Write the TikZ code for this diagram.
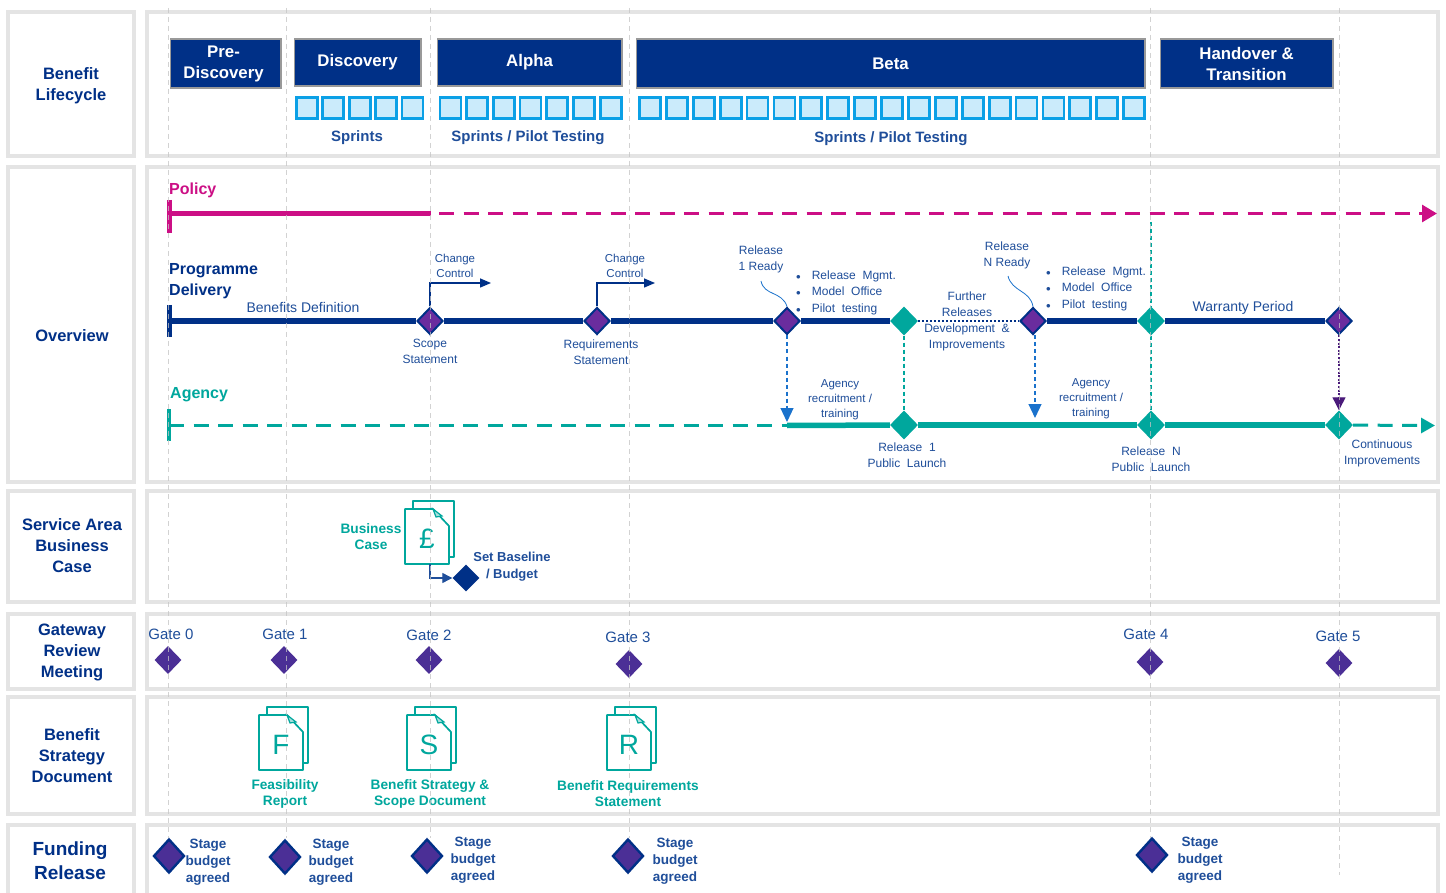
\documentclass[tikz,border=0pt]{standalone}
\usepackage{fontspec}
\setmainfont{Liberation Sans}
\usetikzlibrary{shapes.geometric,arrows.meta}
\definecolor{navy}{HTML}{003087}
\definecolor{txt}{HTML}{1F4E9A}
\definecolor{tl}{HTML}{00A79D}
\definecolor{pk}{HTML}{CC0F85}
\definecolor{pu}{HTML}{6A2C9E}
\definecolor{vi}{HTML}{4B2F96}
\definecolor{sky}{HTML}{0BA0E6}
\definecolor{skyf}{HTML}{CBEBFB}
\definecolor{panel}{HTML}{E4E4E4}
\definecolor{guide}{HTML}{C4C4C4}
\definecolor{arrb}{HTML}{1A72CC}
\definecolor{dkpu}{HTML}{4A1A7A}
\tikzset{
 x=1pt,y=-1pt,
 panelbox/.style={draw=panel,line width=3.5pt,fill=white},
 head/.style={text=navy,font=\fontsize{16.5}{21}\selectfont\bfseries,align=center,inner sep=0pt},
 phase/.style={draw=black!40,line width=1.6pt,fill=navy,text=white,font=\fontsize{16.8}{21}\selectfont\bfseries,align=center,inner sep=0pt,anchor=north west},
 sprint/.style={draw=sky,line width=2.8pt,fill=skyf,minimum width=21pt,minimum height=21.5pt,inner sep=0pt,anchor=north west},
 sub/.style={text=txt,font=\fontsize{15}{19}\selectfont\bfseries,align=center,inner sep=0pt},
 small/.style={text=txt,font=\fontsize{12}{16}\selectfont,align=center,inner sep=0pt},
 tiny/.style={text=txt,font=\fontsize{11.5}{15}\selectfont,align=center,inner sep=0pt},
 tltext/.style={text=tl,font=\fontsize{13.7}{16}\selectfont\bfseries,align=center,inner sep=0pt},
 gatet/.style={text=txt,font=\fontsize{15}{18}\selectfont,inner sep=0pt},
 stage/.style={text=txt,font=\fontsize{13.5}{17}\selectfont\bfseries,align=center,inner sep=0pt},
 guideline/.style={draw=guide,line width=0.8pt,dash pattern=on 5pt off 4pt},
 pdia/.style={diamond,draw=navy,line width=2pt,fill=pu,minimum width=26pt,minimum height=27pt,inner sep=0pt},
 tdia/.style={diamond,fill=tl,minimum width=28pt,minimum height=29pt,inner sep=0pt},
 gdia/.style={diamond,fill=vi,minimum width=27pt,minimum height=28pt,inner sep=0pt},
 fdia/.style={diamond,draw=navy,line width=2.4pt,fill=vi,minimum width=31pt,minimum height=34pt,inner sep=0pt},
 ndia/.style={diamond,fill=navy,minimum width=27pt,minimum height=27pt,inner sep=0pt},
 docb/.style={draw=tl,line width=1.7pt,fill=white,line join=round},
 doclet/.style={text=tl,font=\fontsize{28}{28}\selectfont,inner sep=0pt},
 tick/.style={line width=5pt},
 thick5/.style={line width=5.5pt},
 dash5/.style={line width=3pt,dash pattern=on 15pt off 9.5pt},
 dropline/.style={line width=1.2pt,dash pattern=on 4pt off 3pt},
}
\newcommand{\docicon}[4]{% name, x, y, letter
 \draw[docb] (#2+8,#3+8) -- (#2+8,#3) -- (#2+49,#3) -- (#2+49,#3+56) -- (#2+44,#3+56);
 \draw[docb] (#2,#3+8) -- (#2+28,#3+8) -- (#2+44,#3+25) -- (#2+44,#3+63) -- (#2,#3+63) -- cycle;
 \draw[draw=tl,line width=1.2pt,fill=tl!35] (#2+28,#3+8) -- (#2+31,#3+16) -- (#2+37,#3+15) -- cycle;
 \node[doclet] (#1) at (#2+22,#3+38) {#4};
}
\begin{document}
\begin{tikzpicture}
\useasboundingbox (0,0) rectangle (1446,893);
% panels
\foreach \a/\b in {12/156,167/482,491/602,614/689,697/814,825/905}{
 \draw[panelbox] (8,\a) rectangle (134,\b);
 \draw[panelbox] (147,\a) rectangle (1438,\b);
}
% row heads
\node[head] (h1) at (71,85.5) {Benefit\\Lifecycle};
\node[head] (h2) at (72,336) {Overview};
\node[head] (h3) at (72,546) {Service Area\\Business\\Case};
\node[head] (h4) at (72,652.5) {Gateway\\Review\\Meeting};
\node[head] (h5) at (72,756) {Benefit\\Strategy\\Document};
\node[head,font=\fontsize{19}{24}\selectfont\bfseries] (h6) at (70,861) {Funding\\Release};
% phases
\node[phase,minimum width=110.5pt,minimum height=48.5pt] (p0) at (169.5,38.5) {\hspace*{-4pt}Pre-\\\hspace*{-4pt}Discovery};
\node[phase,minimum width=126.5pt,minimum height=46.5pt] (p1) at (293.5,38.5) {Discovery};
\node[phase,minimum width=184.5pt,minimum height=46.5pt] (p2) at (436.5,38.5) {Alpha};
\node[phase,minimum width=508.5pt,minimum height=48.5pt] (p3) at (635.5,38.5) {Beta};
\node[phase,minimum width=172.5pt,minimum height=48.5pt] (p4) at (1159.5,38.5) {Handover \&\\Transition};
% sprints
\foreach \i in {0,...,4}{\node[sprint] (sa\i) at ({295+26.4*\i},96) {};}
\foreach \i in {0,...,6}{\node[sprint] (sb\i) at ({438.5+26.7*\i},96) {};}
\foreach \i in {0,...,18}{\node[sprint] (sc\i) at ({638+26.9*\i},96) {};}
\node[sub] (t1) at (357,138) {Sprints};
\node[sub] (t2) at (528,138) {Sprints / Pilot Testing};
\node[sub] (t3) at (891,139) {Sprints / Pilot Testing};
% policy
\node[text=pk,font=\fontsize{16}{20}\selectfont\bfseries,inner sep=0pt,anchor=west] (polt) at (169,190) {Policy};
\coordinate (pol0) at (169,213.5); \coordinate (polt1) at (169,200); \coordinate (polb1) at (169,233);
\coordinate (pol1) at (431,213.5); \coordinate (pol2) at (1437,213.5); \coordinate (pol3) at (1422,213.5);
\draw[pk,tick] (polt1) -- (polb1);
\draw[pk,thick5] (pol0) -- (pol1);
\draw[pk,dash5] ([xshift=8pt]pol1) -- (pol3);
\draw[pk,line width=3pt,-{Triangle[length=15pt,width=17pt]}] (pol3) -- (pol2);
% programme
\node[text=navy,font=\fontsize{16}{21}\selectfont\bfseries,align=left,inner sep=0pt,anchor=west] (prt) at (169,281) {Programme\\Delivery};
\coordinate (pr0) at (169,321); \coordinate (prt1) at (169,305); \coordinate (prb1) at (169,337);
\node[pdia] (d1) at (430,321) {};
\node[pdia] (d2) at (597,321) {};
\node[pdia] (d3) at (787,321) {};
\node[tdia] (d4) at (904,321) {};
\node[pdia] (d5) at (1033,321) {};
\node[tdia] (d6) at (1151,321) {};
\node[pdia] (d7) at (1339,321) {};
\draw[navy,tick] (prt1) -- (prb1);
\draw[navy,thick5] (pr0) -- (d1);
\draw[navy,thick5] (d1) -- (d2);
\draw[navy,thick5] (d2) -- (d3);
\draw[navy,thick5] (d3) -- (d4);
\draw[navy,line width=2pt,dotted] (d4) -- (d5);
\draw[navy,thick5] (d5) -- (d6);
\draw[navy,thick5] (d6) -- (d7);
% change control
\coordinate (cc1) at (491,283); \coordinate (cc2) at (655,283);
\draw[navy,line width=1.5pt,-{Triangle[length=11pt,width=9pt]}] (d1.north) |- (cc1);
\draw[navy,line width=1.5pt,-{Triangle[length=11pt,width=9pt]}] (d2.north) |- (cc2);
\node[tiny] (tc1) at (455,266) {Change\\Control};
\node[tiny] (tc2) at (625,266) {Change\\Control};
\node[small,font=\fontsize{14}{17}\selectfont] (tb) at (303,307.5) {Benefits Definition};
\node[small] (ts1) at (430,351) {Scope\\Statement};
\node[small] (ts2) at (601,352) {Requirements\\Statement};
\node[small] (tr1) at (761,259) {Release\\1 Ready};
\node[small] (trn) at (1007,255) {Release\\N Ready};
\coordinate (ca1) at (761,281); \coordinate (ca2) at (1008,276);
\draw[arrb,line width=0.8pt] (ca1) .. controls (764,296) and (782,291) .. (d3.north);
\draw[arrb,line width=0.8pt] (ca2) .. controls (1012,292) and (1030,290) .. (d5.north);
\node[small,align=left,anchor=north west,font=\fontsize{12}{16.6}\selectfont] (bl1) at (796,270.5) {{\fontsize{9}{9}\selectfont$\bullet$}\hspace{11pt}Release\ \ Mgmt.\\{\fontsize{9}{9}\selectfont$\bullet$}\hspace{11pt}Model\ \ Office\\{\fontsize{9}{9}\selectfont$\bullet$}\hspace{11pt}Pilot\ \ testing};
\node[small,align=left,anchor=north west,font=\fontsize{12}{16.6}\selectfont] (bl2) at (1046,266.5) {{\fontsize{9}{9}\selectfont$\bullet$}\hspace{11pt}Release\ \ Mgmt.\\{\fontsize{9}{9}\selectfont$\bullet$}\hspace{11pt}Model\ \ Office\\{\fontsize{9}{9}\selectfont$\bullet$}\hspace{11pt}Pilot\ \ testing};
\node[small] (fr1) at (967,304) {Further\\Releases};
\node[small] (fr2) at (967,337) {Development \ \&\\Improvements};
\node[small,font=\fontsize{14}{17}\selectfont] (wp) at (1243,308) {Warranty Period};
% agency
\node[text=tl,font=\fontsize{16}{20}\selectfont\bfseries,inner sep=0pt,anchor=west] (agt) at (170,395) {Agency};
\coordinate (ag0) at (169,425.5); \coordinate (agt1) at (169,409); \coordinate (agb1) at (169,441);
\coordinate (ag1) at (787,425.5); \coordinate (ag2) at (1435,425.5); \coordinate (ag3) at (1421,425.5);
\node[tdia] (e1) at (904,425) {};
\node[tdia] (e2) at (1151,425) {};
\node[tdia] (e3) at (1339,425) {};
\draw[tl,line width=3.5pt] (agt1) -- (agb1);
\draw[tl,dash5] (ag0) -- (ag1);
\draw[tl,thick5] (ag1) -- (e1);
\draw[tl,thick5] (e1) -- (e2);
\draw[tl,thick5] (e2) -- (e3);
\draw[tl,dash5] (e3) -- (ag3);
\draw[tl,line width=3pt,-{Triangle[length=14pt,width=15pt]}] (ag3) -- (ag2);
% verticals
\coordinate (v1) at (787,422); \coordinate (v1m) at (787,408);
\coordinate (v2) at (1035,418); \coordinate (v2m) at (1035,404);
\coordinate (v3) at (1151,222); \coordinate (v2s) at (1035,335);
\coordinate (v4m) at (1339,398);
\draw[arrb,dropline] (d3.south) -- (v1m);
\draw[arrb,line width=1.2pt,-{Triangle[length=14pt,width=13pt]}] (v1m) -- (v1);
\draw[arrb,dropline] (v2s) -- (v2m);
\draw[arrb,line width=1.2pt,-{Triangle[length=14pt,width=13pt]}] (v2m) -- (v2);
\draw[tl,dropline] (d4.south) -- (e1.north);
\draw[tl,dropline] (v3) -- (d6.north);
\draw[tl,dropline] (d6.south) -- (e2.north);
\draw[dkpu,line width=1.6pt,dash pattern=on 2pt off 1.6pt] (d7.south) -- (v4m);
\draw[dkpu,line width=1.2pt,-{Triangle[length=13pt,width=13pt]}] (v4m) -- (e3.north);
\node[tiny] (a1) at (840,400) {Agency\\recruitment /\\training};
\node[tiny] (a2) at (1091,399) {Agency\\recruitment /\\training};
\node[small] (l1) at (907,455.5) {Release \ 1\\Public \ Launch};
\node[small] (l2) at (1151,459.5) {Release \ N\\Public \ Launch};
\node[small] (l3) at (1382,453.5) {Continuous\\Improvements};
% business case
\docicon{b}{405}{501}{£}
\node[tltext] (bc) at (371,537) {Business\\Case};
\node[ndia] (bd) at (466,578) {};
\coordinate (bcs) at (430,564);
\draw[txt,line width=1.2pt,-{Triangle[length=10pt,width=10pt]}] (bcs) |- (bd.west);
\node[sub,font=\fontsize{13}{17}\selectfont\bfseries] (bt) at (512,567) {Set Baseline\\/ Budget};
% gates
\foreach \n/\gx/\gy/\lx/\ly/\t in {q0/168/660/171/634/Gate 0,q1/284/660/285/634/Gate 1,q2/429/660/429/635/Gate 2,q3/629/664/628/637/Gate 3,q4/1150/662/1146/634/Gate 4,q5/1339/663/1338/636/Gate 5}{
 \node[gdia] (\n) at (\gx,\gy) {};
 \node[gatet] (\n t) at (\lx,\ly) {\t};
}
% docs
\docicon{f}{259}{707}{F}
\docicon{s}{407}{707}{S}
\docicon{r}{607}{707}{R}
\node[tltext] (ft) at (285,793.5) {Feasibility\\Report};
\node[tltext] (st) at (430,793.5) {Benefit Strategy \&\\Scope Document};
\node[tltext] (rt) at (628,793.5) {Benefit Requirements\\Statement};
% funding
\foreach \n/\gx/\gy/\lx/\ly in {u0/169/856/208/862,u1/285/857/331/862,u2/427/856/473/860,u3/628/856/675/861,u4/1152/855/1200/860}{
 \node[fdia] (\n) at (\gx,\gy) {};
 \node[stage] (\n t) at (\lx,\ly) {Stage\\budget\\agreed};
}
% guides on top of everything, faint
\foreach \n/\gx in {g0/168,g1/286,g2/430,g3/629,g4/1150}{
 \coordinate (\n t) at (\gx,8);
 \coordinate (\n b) at (\gx,838);
 \draw[guideline,opacity=0.75] (\n t) -- (\n b);
}
\coordinate (g5t) at (1339,8); \coordinate (g5b) at (1339,875);
\draw[guideline,opacity=0.75] (g5t) -- (g5b);
\end{tikzpicture}
\end{document}
